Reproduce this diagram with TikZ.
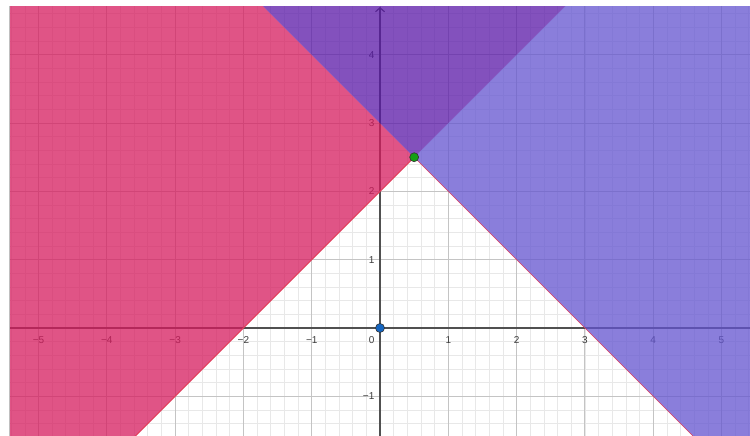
\documentclass[tikz,border=0pt]{standalone}
\usepackage{fontspec}
\setmainfont{Liberation Sans}
\usetikzlibrary{arrows.meta}
\definecolor{pinkfill}{RGB}{214,27,94}
\definecolor{bluefill}{RGB}{99,84,208}
\definecolor{overfill}{RGB}{90,24,168}
\definecolor{minorgrid}{RGB}{232,232,232}
\definecolor{majorgrid}{RGB}{196,196,196}
\definecolor{axisgray}{RGB}{80,80,80}
\definecolor{labelgray}{RGB}{60,60,60}
\definecolor{boundred}{RGB}{226,62,92}
\definecolor{ptgreen}{RGB}{20,160,20}
\definecolor{ptblue}{RGB}{21,101,192}
\tikzset{
  minorline/.style={draw=minorgrid, line width=0.7pt},
  majorline/.style={draw=majorgrid, line width=1pt},
  axisline/.style={draw=axisgray, line width=1.2pt},
  ticklabel/.style={text=labelgray, font=\fontsize{10}{12}\selectfont, inner sep=0pt},
  region/.style={fill opacity=0.75, draw=none},
  boundary/.style={draw=boundred, line width=1pt},
  point/.style={circle, draw=black!80, line width=0.6pt, minimum size=9pt, inner sep=0pt}
}
\begin{document}
\begin{tikzpicture}[x=68.3pt, y=68.3pt]
  \useasboundingbox[fill=white] (-5.564,-1.581) rectangle (5.417,4.802);
  % plot window
  \coordinate (BL) at (-5.432,-1.581);
  \coordinate (TR) at (5.417,4.714);
  \coordinate (TL) at (-5.432,4.714);
  \coordinate (BR) at (5.417,-1.581);
  \coordinate (V) at (0.5,2.5);
  \coordinate (RedTop) at (2.714,4.714);
  \coordinate (BlueTop) at (-1.714,4.714);
  \coordinate (RedBot) at (-3.581,-1.581);
  \coordinate (BlueBot) at (4.581,-1.581);
  \begin{scope}
    \clip (BL) rectangle (TR);
    \draw[minorline, step=0.2] (-5.6,-1.8) grid (5.6,4.8);
    \draw[majorline, step=1] (-5.6,-1.8) grid (5.6,4.8);
    \draw[axisline] (-5.6,0) -- (5.6,0);
    \draw[axisline, -{Straight Barb[length=4pt,width=9pt]}] (0,-1.8) -- (0,4.70);
    % tick labels
    \foreach \k/\t in {-5/−5,-4/−4,-3/−3,-2/−2,-1/−1,1/1,2/2,3/3,4/4,5/5}
      \node[ticklabel, anchor=north] (xl\k) at (\k,-0.12) {\t};
    \foreach \k/\t in {-1/−1,1/1,2/2,3/3,4/4}
      \node[ticklabel, anchor=east] (yl\k) at (-0.08,\k) {\t};
    \node[ticklabel, anchor=north east] (zero) at (-0.08,-0.12) {0};
    % regions
    \fill[pinkfill, region] (TL) -- (BlueTop) -- (V) -- (RedBot) -- (BL) -- cycle;
    \fill[bluefill, region] (V) -- (RedTop) -- (TR) -- (BR) -- (BlueBot) -- cycle;
    \fill[overfill, region] (BlueTop) -- (RedTop) -- (V) -- cycle;
    % boundary lines
    \draw[boundary] (RedBot) -- (V);
    \draw[boundary, line width=0.6pt] (V) -- (BlueBot);
  \end{scope}
  \draw[draw=black!25, line width=0.6pt] (BL) -- (TL);
  % points
  \node[point, fill=ptgreen] (P) at (V) {};
  \node[point, fill=ptblue] (O) at (0,0) {};
\end{tikzpicture}
\end{document}
